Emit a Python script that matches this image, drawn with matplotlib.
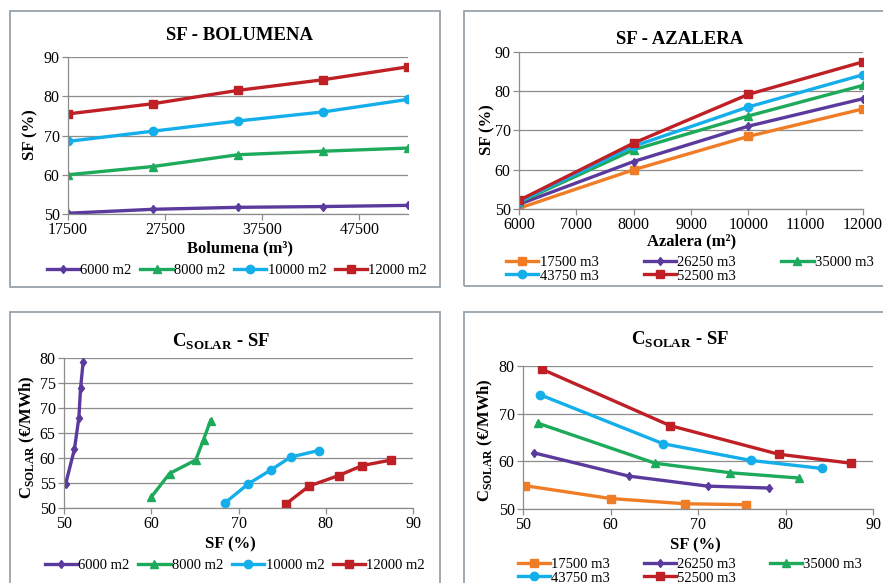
import matplotlib
matplotlib.use("Agg")
import matplotlib.pyplot as plt
from matplotlib.patches import Rectangle

plt.rcParams['font.family'] = ['Liberation Serif', 'DejaVu Serif']
plt.rcParams['mathtext.fontset'] = 'custom'
plt.rcParams['mathtext.rm'] = 'Liberation Serif'
plt.rcParams['mathtext.bf'] = 'Liberation Serif:bold'

# data
volumes = [17500, 26250, 35000, 43750, 52500]
areas = [6000, 8000, 10000, 12000]
area_labels = ["6000 m2", "8000 m2", "10000 m2", "12000 m2"]
volume_labels = ["17500 m3", "26250 m3", "35000 m3", "43750 m3", "52500 m3"]

# SF (%) per collector area, one value per volume
sf_6000 = [50.2, 51.2, 51.7, 51.9, 52.2]
sf_8000 = [60.0, 62.1, 65.1, 66.0, 66.8]
sf_10000 = [68.5, 71.1, 73.7, 76.0, 79.2]
sf_12000 = [75.5, 78.1, 81.5, 84.2, 87.5]

# C_SOLAR (EUR/MWh) per collector area, one value per volume
cost_6000 = [54.9, 61.8, 68.0, 74.0, 79.3]
cost_8000 = [52.2, 56.9, 59.6, 63.7, 67.5]
cost_10000 = [51.1, 54.8, 57.6, 60.2, 61.5]
cost_12000 = [50.9, 54.4, 56.5, 58.5, 59.6]

sf_by_area = [sf_6000, sf_8000, sf_10000, sf_12000]
cost_by_area = [cost_6000, cost_8000, cost_10000, cost_12000]

PURPLE = "#5B3A9E"
GREEN = "#1DAA5A"
CYAN = "#14AEEA"
RED = "#BE2026"
ORANGE = "#F07D26"

area_styles = [(PURPLE, "d", 4.5), (GREEN, "^", 6), (CYAN, "o", 6), (RED, "s", 6)]
volume_styles = [(ORANGE, "s", 6), (PURPLE, "d", 4.5), (GREEN, "^", 6),
                 (CYAN, "o", 6), (RED, "s", 6)]

W, H = 883, 583
fig = plt.figure(figsize=(W / 100, H / 100), dpi=100)


def box(x0, y0, x1, y1):
    return [x0 / W, 1 - y1 / H, (x1 - x0) / W, (y1 - y0) / H]


def ftext(x, y, s, **kw):
    fig.text(x / W, 1 - y / H, s, ha='center', va='center', **kw)


# panel frames
for x0, y0, x1, y1 in [(10, 11, 440, 287), (464, 11, 900, 286),
                       (10, 312, 440, 600), (464, 312, 900, 600)]:
    fig.add_artist(Rectangle((x0 / W, 1 - y1 / H), (x1 - x0) / W, (y1 - y0) / H,
                             transform=fig.transFigure, fill=False,
                             edgecolor="#98A2AA", linewidth=1.3))


def style_axes(ax):
    ax.grid(axis='y', color="#8C8C8C", linewidth=0.9)
    ax.set_axisbelow(True)
    for s in ['top', 'right']:
        ax.spines[s].set_visible(False)
    for s in ['left', 'bottom']:
        ax.spines[s].set_color("#8C8C8C")
        ax.spines[s].set_linewidth(0.9)
    ax.tick_params(length=4, width=0.9, color="#8C8C8C", labelsize=11.5, pad=2)


def legend(ax, handles, labels, x, y, ncol, colspace=0.6):
    ax.legend(handles, labels, loc='center', bbox_to_anchor=(x / W, 1 - y / H),
              bbox_transform=fig.transFigure, ncol=ncol, frameon=False,
              fontsize=10.5, handlelength=2.2, handletextpad=0.1,
              columnspacing=colspace, borderaxespad=0, labelspacing=0.05)


lw = 2.4

# panel 1: SF - Bolumena
ax1 = fig.add_axes(box(68, 57, 408, 214))
hs = []
for sf, (c, m, ms) in zip(sf_by_area, area_styles):
    h, = ax1.plot(volumes, sf, color=c, marker=m, markersize=ms, linewidth=lw)
    hs.append(h)
ax1.set_xlim(17500, 52500)
ax1.set_ylim(50, 90)
ax1.set_xticks([17500, 27500, 37500, 47500])
ax1.set_yticks([50, 60, 70, 80, 90])
style_axes(ax1)
ftext(240, 35, "SF - BOLUMENA", fontsize=13.5, fontweight='bold')
ftext(240, 248, "Bolumena (m³)", fontsize=12, fontweight='bold')
ftext(30, 135, "SF (%)", fontsize=12, fontweight='bold', rotation=90)
legend(ax1, hs, area_labels, 237, 270, 4)

# panel 2: SF - Azalera
ax2 = fig.add_axes(box(519, 52, 863, 209))
hs = []
for i, (c, m, ms) in enumerate(volume_styles):
    sf = [row[i] for row in sf_by_area]
    h, = ax2.plot(areas, sf, color=c, marker=m, markersize=ms, linewidth=lw)
    hs.append(h)
ax2.set_xlim(6000, 12000)
ax2.set_ylim(50, 90)
ax2.set_xticks(range(6000, 12001, 1000))
ax2.set_yticks([50, 60, 70, 80, 90])
style_axes(ax2)
ftext(680, 40, "SF - AZALERA", fontsize=13.5, fontweight='bold')
ftext(692, 241, "Azalera (m²)", fontsize=12, fontweight='bold')
ftext(487, 130, "SF (%)", fontsize=12, fontweight='bold', rotation=90)
order = [0, 3, 1, 4, 2]
legend(ax2, [hs[i] for i in order], [volume_labels[i] for i in order],
       690, 269, 3, colspace=3.1)

csolar_title = r"$\mathbf{C}_{\mathbf{SOLAR}}$" + " - SF"
csolar_label = r"$\mathbf{C}_{\mathbf{SOLAR}}$" + " (€/MWh)"

# panel 3: C_SOLAR - SF per area
ax3 = fig.add_axes(box(64, 358, 413, 508))
hs = []
for sf, cost, (c, m, ms) in zip(sf_by_area, cost_by_area, area_styles):
    h, = ax3.plot(sf, cost, color=c, marker=m, markersize=ms, linewidth=lw)
    hs.append(h)
ax3.set_xlim(50, 90)
ax3.set_ylim(50, 80)
ax3.set_xticks([50, 60, 70, 80, 90])
ax3.set_yticks(range(50, 81, 5))
style_axes(ax3)
ftext(221, 342, csolar_title, fontsize=13.5, fontweight='bold')
ftext(230, 544, "SF (%)", fontsize=12, fontweight='bold')
ftext(27, 437, csolar_label, fontsize=12, fontweight='bold', rotation=90)
legend(ax3, hs, area_labels, 235, 565, 4)

# panel 4: C_SOLAR - SF per volume
ax4 = fig.add_axes(box(523, 366, 873, 509))
hs = []
for i, (c, m, ms) in enumerate(volume_styles):
    sf = [row[i] for row in sf_by_area]
    cost = [row[i] for row in cost_by_area]
    h, = ax4.plot(sf, cost, color=c, marker=m, markersize=ms, linewidth=lw)
    hs.append(h)
ax4.set_xlim(50, 90)
ax4.set_ylim(50, 80)
ax4.set_xticks([50, 60, 70, 80, 90])
ax4.set_yticks([50, 60, 70, 80])
style_axes(ax4)
ftext(680, 340, csolar_title, fontsize=13.5, fontweight='bold')
ftext(695, 545, "SF (%)", fontsize=12, fontweight='bold')
ftext(485, 440, csolar_label, fontsize=12, fontweight='bold', rotation=90)
legend(ax4, [hs[i] for i in order], [volume_labels[i] for i in order],
       690, 571, 3, colspace=2.3)

fig.savefig("out.png", dpi=100)
